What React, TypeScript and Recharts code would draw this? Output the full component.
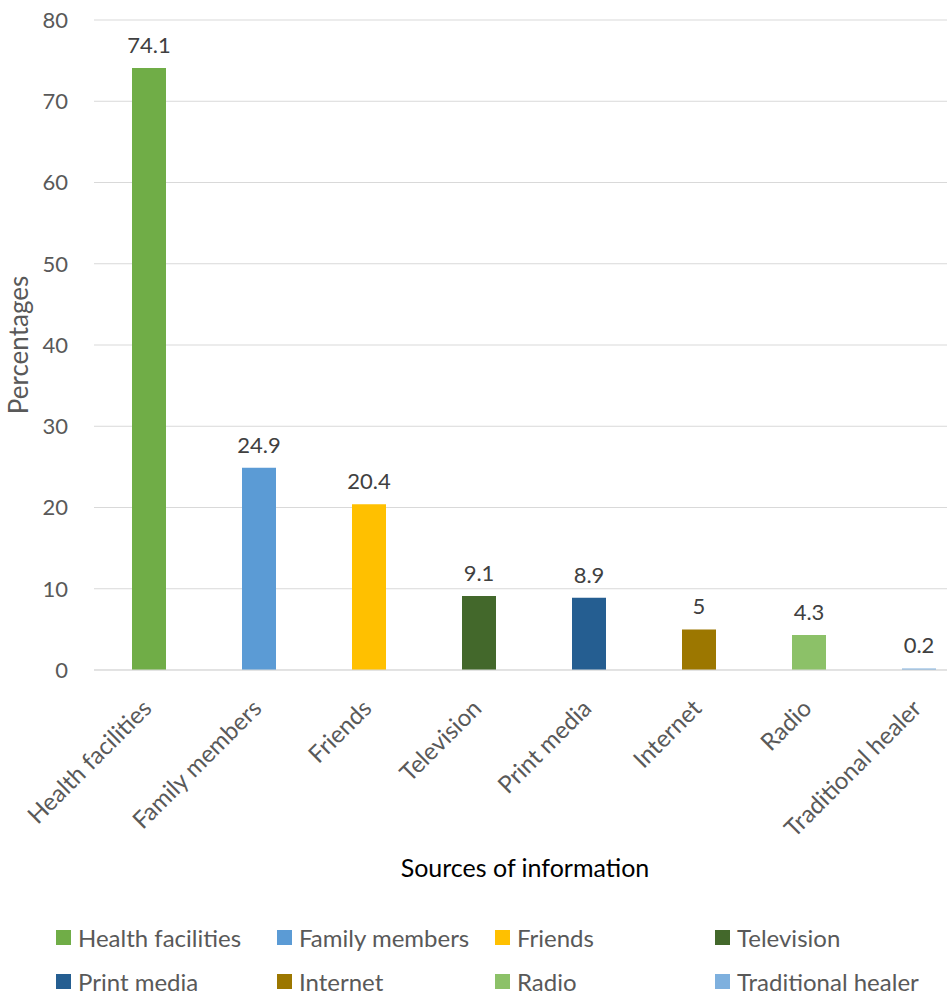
import { BarChart, Bar, XAxis, YAxis, CartesianGrid, LabelList, Cell, Label } from 'recharts';

const sources = [
  'Health facilities',
  'Family members',
  'Friends',
  'Television',
  'Print media',
  'Internet',
  'Radio',
  'Traditional healer',
];
const percentages = [74.1, 24.9, 20.4, 9.1, 8.9, 5, 4.3, 0.2];
const barColors = ['#70AD47', '#5B9BD5', '#FFC000', '#43682B', '#255E91', '#9C7700', '#8CC168', '#7EB0DE'];
const yTicks = [0, 10, 20, 30, 40, 50, 60, 70, 80];

const FONT = 'Lato, "Open Sans", sans-serif';
const GREY = '#595959';

const data = sources.map((name, i) => ({ name, value: percentages[i] }));

function SourceTick({ x, y, payload }: any) {
  const tx = x + 4;
  const ty = y + 40;
  return (
    <text
      x={tx}
      y={ty}
      transform={`rotate(-45 ${tx} ${ty})`}
      textAnchor="end"
      fill={GREY}
      fontSize={24}
      fontFamily={FONT}
    >
      {payload.value}
    </text>
  );
}

// legend grid: 4 columns x 2 rows
const legendCols = [56, 277, 495, 715];
const legendRows = [937, 981];

export default function App() {
  return (
    <div
      style={{
        position: 'absolute',
        left: 0,
        top: 0,
        width: 947,
        height: 994,
        overflow: 'hidden',
        background: '#fff',
      }}
    >
      <BarChart
        width={990}
        height={994}
        data={data}
        margin={{ top: 20, right: 16, bottom: 104, left: 0 }}
      >
        <CartesianGrid vertical={false} stroke="#d9d9d9" />
        <XAxis
          dataKey="name"
          interval={0}
          height={220}
          tickSize={0}
          tickMargin={0}
          tickLine={false}
          axisLine={{ stroke: '#d9d9d9' }}
          tick={<SourceTick />}
        >
          <Label
            value="Sources of information"
            position="insideBottom"
            offset={13}
            dx={-9}
            fill="#000"
            fontSize={25}
            fontFamily={FONT}
          />
        </XAxis>
        <YAxis
          domain={[0, 80]}
          ticks={yTicks}
          width={94}
          tickSize={0}
          tickMargin={26}
          axisLine={false}
          tickLine={false}
          tick={{ fill: GREY, fontSize: 22, fontFamily: FONT }}
        >
          <Label
            value="Percentages"
            angle={-90}
            position="center"
            dx={-28}
            fill={GREY}
            fontSize={26}
            fontFamily={FONT}
          />
        </YAxis>
        <Bar dataKey="value" barSize={34} isAnimationActive={false}>
          {data.map((d, i) => (
            <Cell key={d.name} fill={barColors[i]} />
          ))}
          <LabelList
            dataKey="value"
            position="top"
            offset={15}
            fill="#404040"
            fontSize={22}
            fontFamily={FONT}
          />
        </Bar>
      </BarChart>
      {sources.map((name, i) => (
        <div
          key={name}
          style={{
            position: 'absolute',
            left: legendCols[i % 4],
            top: legendRows[Math.floor(i / 4)] - 15,
            height: 30,
            display: 'flex',
            alignItems: 'center',
            fontFamily: FONT,
            fontSize: 24,
            color: GREY,
            whiteSpace: 'nowrap',
          }}
        >
          <span
            style={{
              display: 'inline-block',
              width: 15,
              height: 15,
              background: barColors[i],
              marginRight: 7,
            }}
          />
          {name}
        </div>
      ))}
    </div>
  );
}
